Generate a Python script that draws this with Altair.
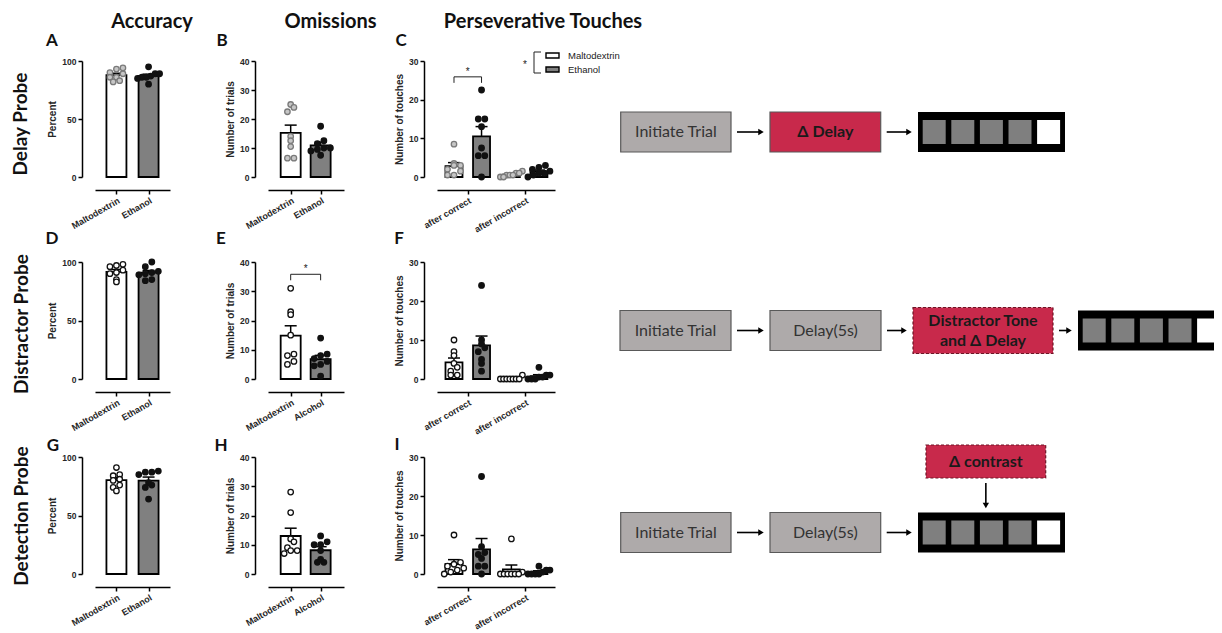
import json
import altair as alt
import pandas as pd

# ------------------------------------------------------------------ data
GROUPS = ["Maltodextrin", "Ethanol"]
PERS_CATS = ["after correct", "after incorrect"]
COL_HEADERS = ["Accuracy", "Omissions", "Perseverative Touches"]
ROW_LABELS = ["Delay Probe", "Distractor Probe", "Detection Probe"]
PANEL_LETTERS = [["A", "B", "C"], ["D", "E", "F"], ["G", "H", "I"]]
X_LABELS = [
    [["Maltodextrin", "Ethanol"], ["Maltodextrin", "Ethanol"], PERS_CATS],
    [["Maltodextrin", "Ethanol"], ["Maltodextrin", "Alcohol"], PERS_CATS],
    [["Maltodextrin", "Ethanol"], ["Maltodextrin", "Alcohol"], PERS_CATS],
]
Y_TITLES = ["Percent", "Number of trials", "Number of touches"]
Y_MAX = [100, 40, 30]
Y_TICKS = [[0, 50, 100], [0, 10, 20, 30, 40], [0, 10, 20, 30]]

# accuracy (%) per probe (delay, distractor, detection)
acc_malto = [
    [94, 93, 90, 89, 86, 86, 83, 82],
    [98, 97, 96, 93, 91, 90, 85, 83],
    [91, 85, 84, 81, 80, 76, 74, 71],
]
acc_eth = [
    [95, 89, 89, 87, 86, 86, 85, 80],
    [100, 96, 92, 91, 90, 89, 85, 84],
    [88, 87, 87, 85, 78, 76, 74, 64],
]
# omissions (number of trials)
om_malto = [
    [25, 24, 22.5, 14, 12.5, 10.5, 6.5, 6.5],
    [31, 23, 22, 15, 8.5, 8, 6, 5],
    [28, 21, 12, 11, 9, 8, 8, 7],
]
om_eth = [
    [17.5, 12.5, 11.5, 10, 10, 9.5, 9, 7.5],
    [14, 8.5, 8, 7, 6, 5, 4.5, 1],
    [13, 11, 10, 10, 8, 5, 4, 4],
]
# perseverative touches
pers_malto_correct = [
    [8.5, 3.5, 3, 3, 2, 1.5, 0.5, 0.5],
    [10, 7, 6, 4, 3, 2, 1, 1],
    [10, 3, 2.5, 2, 1.5, 1, 0.5, 0],
]
pers_eth_correct = [
    [22.5, 15, 15, 13, 7.5, 5.5, 5.5, 0],
    [24, 10, 9, 8, 7, 5, 4, 2],
    [25, 7, 5.5, 5, 4, 2, 2, 0],
]
pers_malto_incorrect = [
    [1.5, 1, 1, 0.5, 0.5, 0.5, 0, 0],
    [1, 0, 0, 0, 0, 0, 0, 0],
    [9, 0.5, 0, 0, 0, 0, 0, 0],
]
pers_eth_incorrect = [
    [3, 2.5, 2, 1.5, 1, 1, 0.5, 0],
    [3, 1, 1, 0.5, 0.5, 0, 0, 0],
    [2, 1, 1, 0.5, 0, 0, 0, 0],
]
# significance brackets
SIG_ROW = [0, 1]
SIG_COL = [2, 1]
SIG_CAT = [0, 0]
SIG_LEVEL = [25.9, 35.8]
SIG_MARK = ["*", "*"]
LEGEND_STAR = "*"

# task schematics (None = touchscreen array; kind 0 plain, 1 manipulated, 2 added stimulus)
FLOW = [
    ["Initiate Trial", "Δ Delay", None],
    ["Initiate Trial", "Delay(5s)", "Distractor Tone\nand Δ Delay", None],
    ["Initiate Trial", "Delay(5s)", None],
]
FLOW_KIND = [[0, 1, 0], [0, 0, 2, 0], [0, 0, 0]]
DETECT_LABEL = "Δ contrast"
SCREEN_COLORS = ["#7f7f7f", "#7f7f7f", "#7f7f7f", "#7f7f7f", "#ffffff"]

# ------------------------------------------------------------------ layout / style
COL_W = [75, 76, 118]
ROW_H = [116, 117, 117]
GAP_W = [98, 93, 45]
ROW_GAP_H = [85, 78]
DIAG_W = 614
X_DOM = [(-0.667, 1.667), (-0.757, 1.78), (-0.536, 1.52)]
SEP = [0.0, 0.0, 0.48]
BAR_HALF_PX = [10, 10, 8.5]
CAP_HALF_PX = 6
PT_DIAM = 6.5
PT_SIZE = 30
MAX_SPREAD_PX = 22
LINE_H = 20

ROW_LABEL_POS = [(-74.5, 63), (-73.5, 62), (-73.5, 59)]
LETTER_POS = [
    [(-43, -20), (-46, -20), (-36, -20)],
    [(-43, -23), (-47, -23), (-38, -23)],
    [(-42, -11.5), (-47, -11.5), (-40, -12)],
]
HEADER_POS = [(57, -39), (62.5, -39), (106, -39)]

DIAG_STEP_X = [
    [(20.7, 131), (170, 280.7), (318, 465)],
    [(20, 131), (170, 281), (313, 453), (478, 625)],
    [(20.7, 131), (170, 280.7), (318, 465)],
]
DIAG_CY = [71, 68.5, 75.5]
BOX_HALF_H = 20
ADDED_HALF_H = 23
DETECT_BOX = (326, 445.7, -12, 21)

AX_FONT = "Liberation Sans"
HEAD_FONT = "Lato"
TXT = "#262626"
GRAY_BAR = "#808080"
RED = "#C8294B"
BOX_GRAY = "#AEAAAA"


def axis_y(ticks, title):
    return alt.Axis(values=ticks, title=title, offset=13, grid=False,
                    domainColor="black", domainWidth=1.5, tickColor="black",
                    tickWidth=1.5, tickSize=4, labelFont=AX_FONT,
                    labelFontWeight="bold", labelFontSize=8.5, labelColor=TXT,
                    labelPadding=2, labelOverlap=False, titleFont=AX_FONT,
                    titleFontWeight="bold", titleFontSize=10, titleColor=TXT,
                    titlePadding=4)


def axis_x(labels):
    expr = json.dumps(labels) + "[round(datum.value)]"
    return alt.Axis(values=[0, 1], labelExpr=expr, title=None, offset=13,
                    grid=False, domainColor="black", domainWidth=1.5,
                    tickColor="black", tickWidth=1.5, tickSize=4,
                    labelFont=AX_FONT, labelFontWeight="bold", labelFontSize=9,
                    labelColor=TXT, labelAngle=-30, labelAlign="right",
                    labelBaseline="top", labelPadding=2, labelFlush=False,
                    labelOverlap=False)


def text_layer(txt, x, y, **kw):
    return alt.Chart(pd.DataFrame({"t": [txt]})).mark_text(**kw).encode(
        text="t:N", x=alt.value(x), y=alt.value(y))


def panel_df(r, c):
    if c == 0:
        series = [(0, 0, acc_malto[r]), (1, 1, acc_eth[r])]
    elif c == 1:
        series = [(0, 0, om_malto[r]), (1, 1, om_eth[r])]
    else:
        series = [(0, 0, pers_malto_correct[r]), (0, 1, pers_eth_correct[r]),
                  (1, 0, pers_malto_incorrect[r]), (1, 1, pers_eth_incorrect[r])]
    return pd.DataFrame([{"ci": ci, "gi": gi, "value": v}
                         for ci, gi, vals in series for v in vals])


def bar_panel(r, c):
    w, h = COL_W[c], ROW_H[r]
    xmin, xmax = X_DOM[c]
    ppx = w / (xmax - xmin)
    ymax = Y_MAX[c]
    ppy = h / ymax
    sep = SEP[c]
    xsc = alt.Scale(domain=[xmin, xmax], nice=False, zero=False)
    ysc = alt.Scale(domain=[0, ymax], nice=False, zero=False)
    xax = axis_x(X_LABELS[r][c])
    yax = axis_y(Y_TICKS[c], Y_TITLES[c])

    def X(f):
        return alt.X(f"{f}:Q", scale=xsc, axis=xax)

    def Y(f):
        return alt.Y(f"{f}:Q", scale=ysc, axis=yax)

    base = alt.Chart(panel_df(r, c)).transform_calculate(
        xc=f"datum.ci + (datum.gi - 0.5) * {sep}")

    half = BAR_HALF_PX[c] / ppx
    bars = base.transform_aggregate(
        mean="mean(value)", groupby=["xc", "gi"]
    ).transform_calculate(
        xl=f"datum.xc - {half}", xr=f"datum.xc + {half}", zero="0"
    ).mark_rect(stroke="black", strokeWidth=1.8).encode(
        x=X("xl"), x2="xr:Q", y=Y("mean"), y2="zero:Q",
        fill=alt.condition("datum.gi == 0", alt.value("white"), alt.value(GRAY_BAR)))

    cap = CAP_HALF_PX / ppx
    eb = base.transform_aggregate(
        mean="mean(value)", se="stderr(value)", groupby=["xc", "gi"]
    ).transform_calculate(
        up="datum.mean + datum.se", cl=f"datum.xc - {cap}", cr=f"datum.xc + {cap}")
    eb_v = eb.mark_rule(color="black", strokeWidth=1.5).encode(
        x=X("xc"), y=Y("mean"), y2="up:Q")
    eb_c = eb.mark_rule(color="black", strokeWidth=1.5).encode(
        x=X("cl"), x2="cr:Q", y=Y("up"))

    binw = PT_DIAM / ppy
    sp = PT_DIAM / ppx
    maxs = MAX_SPREAD_PX / ppx
    if r == 0:
        mf, ms = "#c6c6c6", "#7a7a7a"
    else:
        mf, ms = "white", "#111111"
    pts = base.transform_calculate(
        b=f"floor(datum.value / {binw})"
    ).transform_window(
        rn="row_number()", cnt="count()", groupby=["xc", "b"],
        frame=[None, None], sort=[alt.SortField("value", order="ascending")]
    ).transform_calculate(
        xp=f"datum.xc + (datum.rn - (datum.cnt + 1) / 2) * min({sp}, {maxs} / max(datum.cnt - 1, 1))"
    ).mark_point(filled=True, size=PT_SIZE, strokeWidth=1.3, opacity=1).encode(
        x=X("xp"), y=Y("value"),
        fill=alt.condition("datum.gi == 0", alt.value(mf), alt.value("#111111")),
        stroke=alt.condition("datum.gi == 0", alt.value(ms), alt.value("#111111")))

    layers = [bars, eb_v, eb_c, pts]

    # significance brackets
    for sr, sc, scat, lev, mk in zip(SIG_ROW, SIG_COL, SIG_CAT, SIG_LEVEL, SIG_MARK):
        if sr == r and sc == c:
            if c < 2:
                xa_e, xb_e = "0", "1"
            else:
                xa_e = f"datum.ci - {sep / 2}"
                xb_e = f"datum.ci + {sep / 2}"
            sdf = pd.DataFrame({"ci": [scat], "level": [lev], "mk": [mk]})
            sb = alt.Chart(sdf).transform_calculate(
                xa=xa_e, xb=xb_e, low=f"datum.level - {6 / ppy}",
                xm="(datum.xa + datum.xb) / 2")
            layers.append(sb.mark_rule(color="#222", strokeWidth=1).encode(
                x=X("xa"), x2="xb:Q", y=Y("level")))
            layers.append(sb.mark_rule(color="#222", strokeWidth=1).encode(
                x=X("xa"), y=Y("level"), y2="low:Q"))
            layers.append(sb.mark_rule(color="#222", strokeWidth=1).encode(
                x=X("xb"), y=Y("level"), y2="low:Q"))
            layers.append(sb.mark_text(font=AX_FONT, fontSize=10, color="#222",
                                       baseline="alphabetic", dy=-2).encode(
                x=X("xm"), y=Y("level"), text="mk:N"))

    # legend in the first perseverative panel
    if r == 0 and c == 2:
        layers.append(text_layer(LEGEND_STAR, 88, 7, font=AX_FONT, fontSize=10,
                                 color="#222", baseline="alphabetic"))
        br = alt.Chart(pd.DataFrame({"v": [0]}))
        layers.append(br.mark_rule(color="#222", strokeWidth=1).encode(
            x=alt.value(97), y=alt.value(-9), y2=alt.value(12)))
        layers.append(br.mark_rule(color="#222", strokeWidth=1).encode(
            x=alt.value(97), x2=alt.value(104), y=alt.value(-9)))
        layers.append(br.mark_rule(color="#222", strokeWidth=1).encode(
            x=alt.value(97), x2=alt.value(104), y=alt.value(12)))
        for i, g in enumerate(GROUPS):
            yc = -5.5 + 14 * i
            fillc = "white" if i == 0 else GRAY_BAR
            layers.append(br.mark_rect(fill=fillc, stroke="black", strokeWidth=1.4).encode(
                x=alt.value(109), x2=alt.value(122), y=alt.value(yc - 2.5),
                y2=alt.value(yc + 2.5)))
            layers.append(text_layer(g, 131, yc, font=AX_FONT, fontSize=9.5,
                                     color="#222", align="left", baseline="middle"))

    # panel letter, column header, row label
    lx, ly = LETTER_POS[r][c]
    layers.append(text_layer(PANEL_LETTERS[r][c], lx, ly, font=HEAD_FONT,
                             fontSize=17, fontWeight="bold", color="#111",
                             align="center", baseline="middle"))
    if r == 0:
        hx, hy = HEADER_POS[c]
        layers.append(text_layer(COL_HEADERS[c], hx, hy, font=HEAD_FONT,
                                 fontSize=20, fontWeight="bold", color="#111",
                                 align="center", baseline="middle"))
    if c == 0:
        rx, ry = ROW_LABEL_POS[r]
        layers.append(text_layer(ROW_LABELS[r], rx, ry, font=HEAD_FONT,
                                 fontSize=19, fontWeight="bold", color="#111",
                                 align="center", baseline="middle", angle=270))

    return alt.layer(*layers).properties(width=w, height=h)


def diag_panel(r):
    h = ROW_H[r]
    xs = alt.Scale(domain=[0, DIAG_W], nice=False, zero=False)
    ys = alt.Scale(domain=[0, h], nice=False, zero=False, reverse=True)

    def X(f):
        return alt.X(f"{f}:Q", scale=xs, axis=None)

    def Y(f):
        return alt.Y(f"{f}:Q", scale=ys, axis=None)

    def first_line_y(label, yc):
        n = label.count("\n") + 1
        return yc - LINE_H * (n - 1) / 2

    cy = DIAG_CY[r]
    boxes, texts, arrows, strips, squares, downs = [], [], [], [], [], []
    xpos = DIAG_STEP_X[r]
    for k, (lab, kind, (x0, x1)) in enumerate(zip(FLOW[r], FLOW_KIND[r], xpos)):
        if lab is None:
            strips.append(dict(x0=x0, x1=x1, y0=cy - BOX_HALF_H, y1=cy + BOX_HALF_H))
            for q, col in enumerate(SCREEN_COLORS):
                sx0 = x0 + 4.7 + q * 28.6
                squares.append(dict(x0=sx0, x1=sx0 + 23, y0=cy - 12, y1=cy + 12, col=col))
            if r == 2:
                bx0, bx1, by0, by1 = DETECT_BOX
                boxes.append(dict(x0=bx0, x1=bx1, y0=by0, y1=by1, kind=2))
                texts.append(dict(x=(bx0 + bx1) / 2,
                                  y=first_line_y(DETECT_LABEL, (by0 + by1) / 2),
                                  label=DETECT_LABEL, kind=2))
                downs.append(dict(x=(bx0 + bx1) / 2, ya=by1 + 5,
                                  yb=cy - BOX_HALF_H - 4))
        else:
            hh = ADDED_HALF_H if kind == 2 else BOX_HALF_H
            boxes.append(dict(x0=x0, x1=x1, y0=cy - hh, y1=cy + hh, kind=kind))
            texts.append(dict(x=(x0 + x1) / 2, y=first_line_y(lab, cy),
                              label=lab, kind=kind))
        if k > 0:
            arrows.append(dict(xa=xpos[k - 1][1] + 6, xb=x0 - 6, y=cy))

    bdf = pd.DataFrame(boxes)
    tdf = pd.DataFrame(texts)
    adf = pd.DataFrame(arrows)
    layers = []
    solid = alt.Chart(bdf).transform_filter("datum.kind < 2")
    layers.append(solid.mark_rect(stroke="#595959", strokeWidth=1.2).encode(
        x=X("x0"), x2="x1:Q", y=Y("y0"), y2="y1:Q",
        fill=alt.condition("datum.kind == 0", alt.value(BOX_GRAY), alt.value(RED))))
    dashed = alt.Chart(bdf).transform_filter("datum.kind == 2")
    layers.append(dashed.mark_rect(fill=RED, stroke="#6e1526", strokeWidth=1.2,
                                   strokeDash=[3, 2]).encode(
        x=X("x0"), x2="x1:Q", y=Y("y0"), y2="y1:Q"))
    layers.append(alt.Chart(pd.DataFrame(strips)).mark_rect(fill="black", clip=True).encode(
        x=X("x0"), x2="x1:Q", y=Y("y0"), y2="y1:Q"))
    layers.append(alt.Chart(pd.DataFrame(squares)).mark_rect(clip=True).encode(
        x=X("x0"), x2="x1:Q", y=Y("y0"), y2="y1:Q",
        fill=alt.Fill("col:N", scale=None)))
    layers.append(alt.Chart(tdf).transform_filter("datum.kind == 0").mark_text(
        font=HEAD_FONT, fontSize=16, color="#333333", lineBreak="\n",
        lineHeight=LINE_H, align="center", baseline="middle").encode(
        x=X("x"), y=Y("y"), text="label:N"))
    layers.append(alt.Chart(tdf).transform_filter("datum.kind > 0").mark_text(
        font=HEAD_FONT, fontSize=16, fontWeight="bold", color="#1a1a1a",
        lineBreak="\n", lineHeight=LINE_H, align="center", baseline="middle").encode(
        x=X("x"), y=Y("y"), text="label:N"))
    ach = alt.Chart(adf).transform_calculate(xh="datum.xb - 3")
    layers.append(ach.mark_rule(color="black", strokeWidth=1.6).encode(
        x=X("xa"), x2="xh:Q", y=Y("y")))
    layers.append(ach.mark_point(shape="triangle-right", filled=True, color="black",
                                 size=40, opacity=1).encode(x=X("xh"), y=Y("y")))
    if downs:
        dch = alt.Chart(pd.DataFrame(downs)).transform_calculate(yh="datum.yb - 3")
        layers.append(dch.mark_rule(color="black", strokeWidth=1.6).encode(
            x=X("x"), y=Y("ya"), y2="yh:Q"))
        layers.append(dch.mark_point(shape="triangle-down", filled=True, color="black",
                                     size=40, opacity=1).encode(x=X("x"), y=Y("yh")))
    return alt.layer(*layers).properties(width=DIAG_W, height=h)


def spacer(w, h):
    return alt.Chart(pd.DataFrame({"v": [0]})).mark_text(text="").encode(
        x=alt.value(0), y=alt.value(0)).properties(width=w, height=h)


grid_col_w = [COL_W[0], GAP_W[0], COL_W[1], GAP_W[1], COL_W[2], GAP_W[2], DIAG_W]
grid_row_h = [ROW_H[0], ROW_GAP_H[0], ROW_H[1], ROW_GAP_H[1], ROW_H[2]]

cells = []
for gi_r, rh in enumerate(grid_row_h):
    for gi_c, cw in enumerate(grid_col_w):
        if gi_r % 2 == 0 and gi_c in (0, 2, 4):
            cells.append(bar_panel(gi_r // 2, gi_c // 2))
        elif gi_r % 2 == 0 and gi_c == 6:
            cells.append(diag_panel(gi_r // 2))
        else:
            cells.append(spacer(cw, rh))

chart = alt.concat(*cells, columns=7, spacing=0, bounds="flush").properties(
    padding={"left": 3, "top": 4, "right": 0, "bottom": 0},
    background="white",
).configure_view(strokeWidth=0)

chart.save("out.html", embed_options={"renderer": "svg", "actions": False})
